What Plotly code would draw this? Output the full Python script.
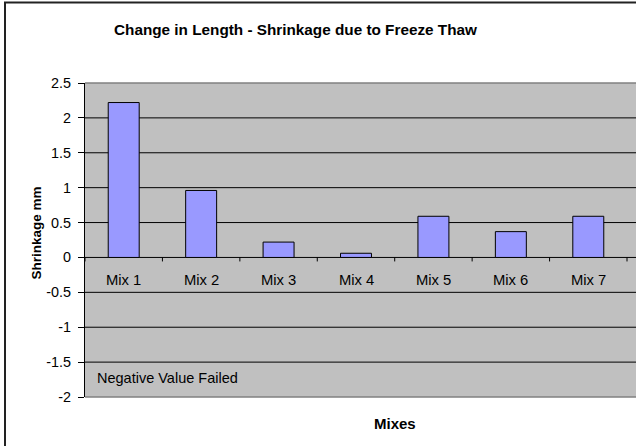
import plotly.graph_objects as go

# Shrinkage results per mix (mm)
mixes = ["Mix 1", "Mix 2", "Mix 3", "Mix 4", "Mix 5", "Mix 6", "Mix 7"]
shrinkage = [2.22, 0.96, 0.22, 0.06, 0.59, 0.37, 0.59]
y_ticks = [-2, -1.5, -1, -0.5, 0, 0.5, 1, 1.5, 2, 2.5]
y_tick_text = ["-2", "-1.5", "-1", "-0.5", "0", "0.5", "1", "1.5", "2", "2.5"]

W, H = 636, 446
L, R, T, B = 85, 0, 83, 49
pw, ph = W - L - R, H - T - B

def px_x(x):
    return (x - L) / pw

def px_y(y):
    return (H - B - y) / ph

FONT = "Liberation Sans, Arial, sans-serif"
xs = list(range(len(mixes)))

fig = go.Figure()
fig.add_trace(go.Bar(
    x=xs, y=shrinkage, width=0.4,
    marker=dict(color="#9999FF", line=dict(color="black", width=1)),
    hoverinfo="skip",
))

shapes = []
# horizontal gridlines
for v in y_ticks[1:-1]:
    if v == 0:
        continue
    shapes.append(dict(type="line", xref="paper", yref="y", x0=0, x1=1, y0=v, y1=v,
                       line=dict(color="black", width=1), layer="below"))
# category axis along zero
shapes.append(dict(type="line", xref="paper", yref="y", x0=0, x1=1, y0=0, y1=0,
                   line=dict(color="black", width=1), layer="below"))
# category tick marks between mixes
for k in range(len(mixes) + 1):
    shapes.append(dict(type="line", xref="x", yref="y", x0=k - 0.5, x1=k - 0.5,
                       ysizemode="pixel", yanchor=0, y0=0, y1=-4,
                       line=dict(color="black", width=1)))
# plot area top/bottom edges
for yp in (0, 1):
    shapes.append(dict(type="line", xref="paper", yref="paper", x0=0, x1=1, y0=yp, y1=yp,
                       line=dict(color="#808080", width=1.5)))
# chart outer frame
shapes.append(dict(type="line", xref="paper", yref="paper",
                   x0=px_x(5), x1=px_x(5), y0=px_y(2.5), y1=px_y(H + 5),
                   line=dict(color="#222222", width=2)))
shapes.append(dict(type="line", xref="paper", yref="paper",
                   x0=px_x(4), x1=px_x(W + 5), y0=px_y(2.5), y1=px_y(2.5),
                   line=dict(color="#222222", width=2)))

annotations = []
for i, m in enumerate(mixes):
    annotations.append(dict(x=i, y=0, xref="x", yref="y", text=m, showarrow=False,
                            yshift=-23, yanchor="middle",
                            font=dict(family=FONT, size=14.8, color="black")))
annotations += [
    dict(x=px_x(295), y=px_y(30), xref="paper", yref="paper", showarrow=False,
         text="<b>Change in Length - Shrinkage due to Freeze Thaw</b>",
         xanchor="center", yanchor="middle",
         font=dict(family=FONT, size=15.3, color="black")),
    dict(x=px_x(395), y=px_y(423), xref="paper", yref="paper", showarrow=False,
         text="<b>Mixes</b>", xanchor="center", yanchor="middle",
         font=dict(family=FONT, size=15, color="black")),
    dict(x=px_x(35.5), y=px_y(233), xref="paper", yref="paper", showarrow=False,
         text="<b>Shrinkage mm</b>", textangle=-90, xanchor="center", yanchor="middle",
         font=dict(family=FONT, size=13.5, color="black")),
    dict(x=px_x(95), y=px_y(378), xref="paper", yref="paper", showarrow=False,
         text="Negative Value Failed", xanchor="left", yanchor="middle",
         font=dict(family=FONT, size=14.5, color="black")),
]

fig.update_layout(
    width=W, height=H,
    margin=dict(l=L, r=R, t=T, b=B, pad=0),
    paper_bgcolor="white", plot_bgcolor="#C0C0C0",
    showlegend=False, bargap=0.6,
    font=dict(family=FONT, size=12, color="black"),
    xaxis=dict(range=[-0.5, 6.5 + 9 / 77.4], showticklabels=False, showgrid=False,
               zeroline=False, showline=False, ticks="", fixedrange=True),
    yaxis=dict(range=[-2, 2.5], tickvals=y_ticks, ticktext=y_tick_text,
               showgrid=False, zeroline=False, showline=True, linecolor="black",
               linewidth=1, ticks="outside", ticklen=6, tickcolor="black",
               ticklabelstandoff=4,
               tickfont=dict(family=FONT, size=14.4, color="black"), fixedrange=True),
    shapes=shapes, annotations=annotations,
)

fig.write_html("out.html")
